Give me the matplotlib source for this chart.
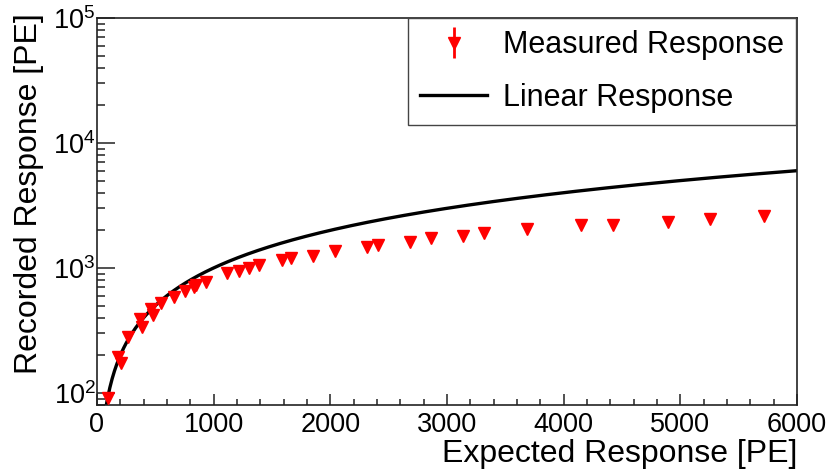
import numpy as np
import matplotlib
matplotlib.use('Agg')
import matplotlib.pyplot as plt
from matplotlib.ticker import MultipleLocator, LogLocator

plt.rcParams['font.family'] = ['Liberation Sans', 'DejaVu Sans']
plt.rcParams['mathtext.fontset'] = 'custom'
plt.rcParams['mathtext.rm'] = 'Liberation Sans'
plt.rcParams['mathtext.it'] = 'Liberation Sans:italic'
plt.rcParams['mathtext.bf'] = 'Liberation Sans:bold'

### DATA ###
# expected vs recorded response (PE), read off the plot
meas_x = [94, 180, 206, 266, 369, 386, 463, 480, 549, 660, 754, 830, 850, 934,
          1114, 1217, 1303, 1389, 1586, 1663, 1851, 2040, 2314, 2409, 2683,
          2863, 3137, 3317, 3686, 4149, 4423, 4894, 5254, 5717]
meas_y = [91, 194, 174, 280, 390, 337, 470, 421, 525, 585, 655, 700, 730, 772,
          910, 945, 1000, 1055, 1159, 1200, 1245, 1372, 1472, 1528, 1615,
          1738, 1803, 1905, 2051, 2208, 2208, 2333, 2466, 2606]
meas_err = [0]*len(meas_x)

# linear response: recorded = expected
line_x = np.linspace(0, 6000, 601)
line_y = line_x

### PLOT ###
fig = plt.figure(figsize=(8.29, 4.70), dpi=100)
ax = fig.add_axes([97/829, 1-405/470, 700/829, 387/470])

ax.plot(line_x, line_y, color='black', lw=2.4, label='Linear Response', zorder=2)
ax.errorbar(meas_x, meas_y, yerr=meas_err, fmt='v', color='red', ms=8,
            ecolor='red', elinewidth=2, capsize=0, label='Measured Response', zorder=3)

ax.set_yscale('log')
ax.set_xlim(0, 6000)
ax.set_ylim(80, 1e5)
ax.xaxis.set_major_locator(MultipleLocator(1000))
ax.xaxis.set_minor_locator(MultipleLocator(200))
ax.yaxis.set_major_locator(LogLocator(base=10))
ax.yaxis.set_minor_locator(LogLocator(base=10, subs=np.arange(2, 10)))

ax.tick_params(axis='both', which='both', direction='in', top=False, right=False,
               width=1.1, color='#222222')
ax.tick_params(axis='y', which='major', length=13, pad=1, labelsize=19.5)
ax.tick_params(axis='y', which='minor', length=6)
ax.tick_params(axis='x', which='major', length=8, pad=5, labelsize=19.5)
ax.tick_params(axis='x', which='minor', length=4)
for s in ax.spines.values():
    s.set_linewidth(1.2)
    s.set_color('#222222')

ax.set_xlabel('Expected Response [PE]', fontsize=23, loc='right')
ax.xaxis.set_label_coords(1.0, -0.087)
ax.set_ylabel('Recorded Response [PE]', fontsize=23, loc='top')
ax.yaxis.set_label_coords(-0.075, 1.013)

h, l = ax.get_legend_handles_labels()
leg = ax.legend(h[::-1], l[::-1], loc='upper left', mode='expand',
                bbox_to_anchor=(408/829, 1-125/470, 388/829, 107/470),
                bbox_transform=fig.transFigure, borderaxespad=0,
                fontsize=22, borderpad=0.4, labelspacing=0.75,
                handlelength=2.2, handletextpad=0.5, fancybox=False,
                framealpha=1, edgecolor='#444444')
leg.get_frame().set_linewidth(1.0)

fig.savefig('out.png', dpi=100)
